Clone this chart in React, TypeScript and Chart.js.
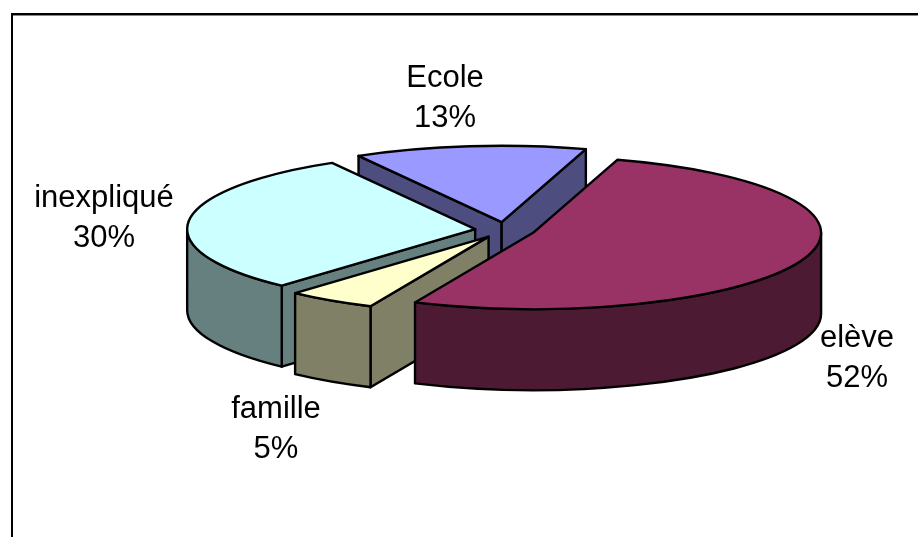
import React, { useEffect, useRef } from "react";
import { Chart, registerables } from "chart.js";

Chart.register(...registerables);

// Clockwise from the start angle. Painted in reverse so nearer slices cover farther ones.
const categories = ["elève", "famille", "inexpliqué", "Ecole"];
const percentages = [52, 5, 30, 13];
const topColors = ["#993366", "#FFFFCC", "#CCFFFF", "#9999FF"];
const wallColors = ["#4D1A33", "#808066", "#668080", "#4D4D80"];
const labelCenters = [
  [857, 338],
  [276, 409],
  [104, 198],
  [445, 78],
];

const START_ANGLE = 17;
const RADIUS = 288;
const SQUASH = 0.265;
const DEPTH = 81;
const EXPLODE = 30;
const FONT = '31px "Liberation Sans", Arial, sans-serif';
const LINE_HEIGHT = 40;

const pie3d = {
  id: "pie3d",
  beforeDraw(chart: any) {
    const { ctx } = chart;
    ctx.save();
    ctx.fillStyle = "#000";
    ctx.fillRect(11, 13, 907, 2);
    ctx.fillStyle = "#888";
    ctx.fillRect(13, 15, 905, 1);
    ctx.fillStyle = "#000";
    ctx.fillRect(11, 13, 2, 524);
    ctx.restore();
  },
  beforeDatasetDraw(chart: any, args: any) {
    const { ctx } = chart;
    const arcs = args.meta.data;
    ctx.lineWidth = 2.4;
    ctx.lineJoin = "round";
    ctx.strokeStyle = "#000";
    for (let i = arcs.length - 1; i >= 0; i--) {
      const arc = arcs[i];
      const { x, y, startAngle: s, endAngle: e, outerRadius: r } = arc.getProps(
        ["x", "y", "startAngle", "endAngle", "outerRadius"],
        true,
      );
      const mid = (s + e) / 2;
      const cx = x + Math.cos(mid) * EXPLODE;
      const cy = y + Math.sin(mid) * EXPLODE * SQUASH;
      const ry = r * SQUASH;
      const rimX = (a: number) => cx + Math.cos(a) * r;
      const rimY = (a: number) => cy + Math.sin(a) * ry;

      ctx.save();
      ctx.fillStyle = wallColors[i];
      // Cut faces that look toward the viewer
      const face = (a: number) => {
        ctx.beginPath();
        ctx.moveTo(cx, cy);
        ctx.lineTo(rimX(a), rimY(a));
        ctx.lineTo(rimX(a), rimY(a) + DEPTH);
        ctx.lineTo(cx, cy + DEPTH);
        ctx.closePath();
        ctx.fill();
        ctx.stroke();
      };
      if (Math.cos(s) < 0) face(s);
      if (Math.cos(e) > 0) face(e);
      // Outer wall on the front half
      const lo = Math.max(s, 0);
      const hi = Math.min(e, Math.PI);
      if (lo < hi) {
        ctx.beginPath();
        ctx.ellipse(cx, cy, r, ry, 0, lo, hi);
        ctx.ellipse(cx, cy + DEPTH, r, ry, 0, hi, lo, true);
        ctx.closePath();
        ctx.fill();
        ctx.stroke();
      }
      ctx.restore();

      // Top surface: the library's own arc, flattened
      ctx.save();
      ctx.translate(cx, cy);
      ctx.scale(1, SQUASH);
      ctx.translate(-x, -y);
      arc.draw(ctx);
      ctx.restore();
      ctx.beginPath();
      ctx.moveTo(cx, cy);
      ctx.ellipse(cx, cy, r, ry, 0, s, e);
      ctx.closePath();
      ctx.stroke();
    }
    return false;
  },
  afterDraw(chart: any) {
    const { ctx } = chart;
    ctx.save();
    ctx.fillStyle = "#000";
    ctx.font = FONT;
    ctx.textAlign = "center";
    ctx.textBaseline = "middle";
    categories.forEach((name, i) => {
      const [lx, ly] = labelCenters[i];
      ctx.fillText(name, lx, ly);
      ctx.fillText(`${percentages[i]}%`, lx, ly + LINE_HEIGHT);
    });
    ctx.restore();
  },
};

export default function App() {
  const ref = useRef<HTMLCanvasElement>(null);
  useEffect(() => {
    const chart = new Chart(ref.current!, {
      type: "pie",
      data: {
        labels: categories,
        datasets: [
          {
            data: percentages,
            backgroundColor: topColors,
            borderWidth: 0,
            radius: RADIUS,
          } as any,
        ],
      },
      options: {
        responsive: false,
        animation: false,
        rotation: START_ANGLE,
        devicePixelRatio: 1,
        layout: { padding: { left: 92, bottom: 77 } },
        plugins: { legend: { display: false }, tooltip: { enabled: false } },
      },
      plugins: [pie3d],
    });
    return () => chart.destroy();
  }, []);
  return (
    <canvas
      ref={ref}
      width={918}
      height={537}
      style={{ position: "fixed", left: 0, top: 0, display: "block", background: "#fff" }}
    />
  );
}
